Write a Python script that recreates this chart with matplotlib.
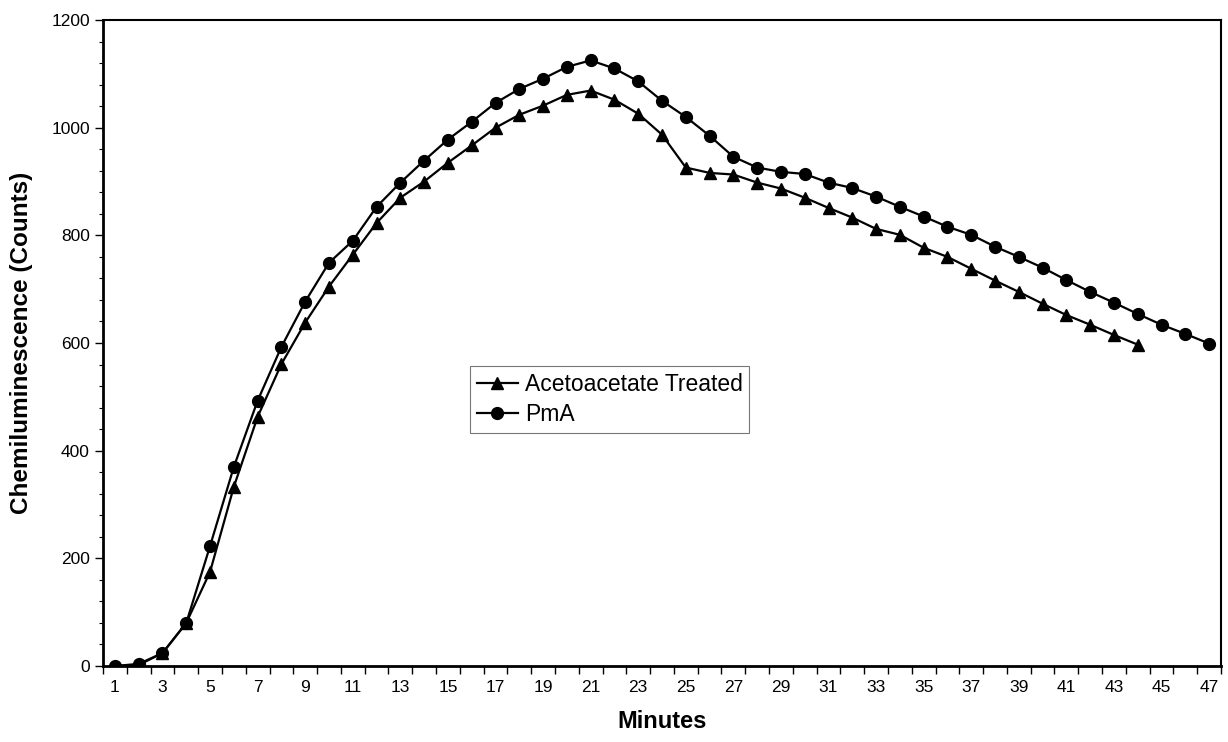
import matplotlib
matplotlib.use("Agg")
import matplotlib.pyplot as plt
import matplotlib.ticker as mticker

plt.rcParams.update({
    "font.family": ["Liberation Sans", "DejaVu Sans"],
    "font.size": 12,
})

minutes = list(range(1, 48))

pma = [0, 4, 24, 80, 223, 370, 493, 593, 677, 749,
       790, 853, 898, 939, 978, 1011, 1046, 1072, 1091, 1113,
       1125, 1110, 1086, 1050, 1020, 985, 946, 926, 918, 914,
       898, 888, 872, 853, 835, 816, 801, 779, 760, 740,
       717, 695, 675, 654, 634, 617, 599]

aceto = [0, 2, 24, 80, 175, 333, 463, 561, 638, 705,
         764, 823, 870, 900, 935, 967, 1000, 1024, 1041, 1061,
         1069, 1052, 1026, 987, 926, 916, 913, 898, 887, 870,
         851, 833, 812, 801, 777, 760, 738, 716, 695, 673,
         652, 634, 615, 597]

tick_labels = [str(m) for m in minutes if m % 2 == 1]

fig = plt.figure(figsize=(12.28, 7.42), dpi=100)
ax = fig.add_axes([0.0839, 0.1024, 0.9104, 0.8706])

ax.plot(minutes[:len(aceto)], aceto, color="black", linewidth=1.6,
        marker="^", markersize=9, label="Acetoacetate Treated", zorder=3)
ax.plot(minutes, pma, color="black", linewidth=1.6,
        marker="o", markersize=8.5, label="PmA", zorder=3)

ax.set_xlim(0.5, 47.5)
ax.set_ylim(0, 1200)

# category axis: ticks between categories, labels on odd minutes
ax.xaxis.set_major_locator(mticker.FixedLocator([m + 0.5 for m in range(0, 48)]))
ax.xaxis.set_major_formatter(mticker.NullFormatter())
ax.xaxis.set_minor_locator(mticker.FixedLocator([m for m in minutes if m % 2 == 1]))
ax.xaxis.set_minor_formatter(mticker.FixedFormatter(tick_labels))
ax.tick_params(axis="x", which="major", direction="out", length=6, width=1)
ax.tick_params(axis="x", which="minor", length=0, pad=10, labelsize=12.5)

ax.yaxis.set_major_locator(mticker.MultipleLocator(200))
ax.yaxis.set_minor_locator(mticker.MultipleLocator(40))
ax.tick_params(axis="y", which="major", direction="out", length=6, width=1, labelsize=12.5)
ax.tick_params(axis="y", which="minor", direction="out", length=3, width=0.8)

for side in ["left", "bottom"]:
    ax.spines[side].set_linewidth(2)
for side in ["top", "right"]:
    ax.spines[side].set_linewidth(1.5)

ax.set_xlabel("Minutes", fontsize=17, fontweight="bold", labelpad=11)
ax.set_ylabel("Chemiluminescence (Counts)", fontsize=17.5, fontweight="bold", labelpad=13)

leg = ax.legend(loc="lower left", bbox_to_anchor=(0.328, 0.361), fontsize=16.5,
                frameon=True, fancybox=False, handlelength=1.8, handletextpad=0.3,
                borderpad=0.3, labelspacing=0.3, borderaxespad=0)
leg.get_frame().set_edgecolor("#555555")
leg.get_frame().set_linewidth(0.8)

fig.savefig("out.png", dpi=100)
plt.close(fig)
